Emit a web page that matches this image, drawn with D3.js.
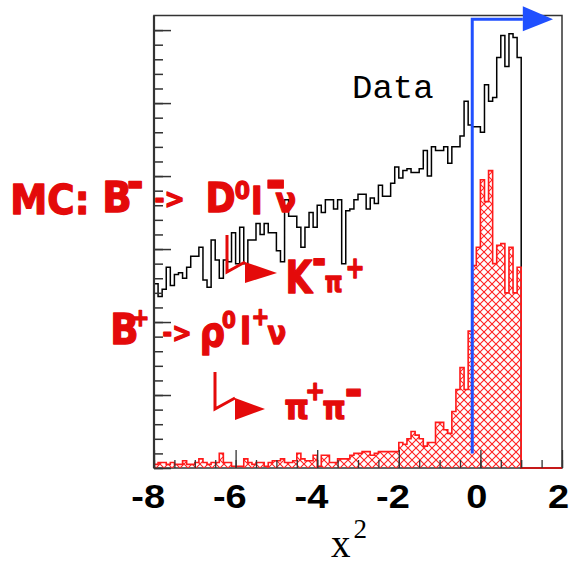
<!DOCTYPE html>
<html>
<head>
<meta charset="utf-8">
<script src="https://cdn.jsdelivr.net/npm/d3@7"></script>
<style>
  body { margin: 0; background: #fff; }
  svg { display: block; }
</style>
</head>
<body>
<svg id="chart" width="569" height="562"></svg>
<script>
// ---- histogram binning: 100 bins of width 0.1 on [-8, 2] ----
const binLow = -8;
const binWidth = 0.1;

// Data: events per bin
const dataCounts = [
  101, 94, 98,110,100,106,107,104,110,116,
  116,121,103, 99,125,114,104,114,113,129,
  112,132,112,125,125,134,128,134,129,129,
  119,113,147,138,138,132,121,132,140,132,
  144,140,147,147,142,147,112,141,142,147,
  150,150,142,148,145,155,149,149,156,165,
  159,163,164,162,162,164,174,160,176,174,
  174,176,167,176,176,182,201,188,187,187,
  184,210,201,203,225,237,220,238,236,225,
    0,  0,  0,  0,  0,  0,  0,  0,  0,  0
];

// MC: B+ -> rho0 l+ nu, rho0 -> pi+ pi-
const mcCounts = [
   2,  3,  3,  2,  3,  2,  2,  4,  2,  2,
   3,  5,  3,  2,  3,  3,  8,  3,  3,  1,
   1,  1,  5,  3,  2,  3,  3,  1,  3,  4,
   4,  5,  3,  3,  4,  8,  5,  4,  4,  7,
   1,  7,  7,  3,  3,  5,  5,  5,  7,  8,
   8,  9,  9,  7,  8,  9,  9,  9,  9,  9,
  14, 13, 16, 20, 18, 16, 12, 14, 14, 25,
  25, 21, 19, 31, 43, 55, 43, 75,111,121,
 158,146,163,112,122,123, 96,121, 96,110,
   0,  0,  0,  0,  0,  0,  0,  0,  0,  0
];

// axis ticks
const xMajorTicks = [-8, -6, -4, -2, 0, 2];
const xMinorStep = 0.5;
const yMajorTicks = [0, 40, 80, 120, 160, 200, 240];
const yMinorStep = 8;

// selection cut on x^2 and the accepted side
const cutValue = -0.2;
const cutBottom = 8, cutTop = 246;
const arrowBase = 1.04, arrowTip = 1.78;

// ---- layout ----
const x = d3.scaleLinear().domain([-8, 2]).range([154, 562]);
const y = d3.scaleLinear().domain([0, 248]).range([468, 15.5]);

const svg = d3.select("#chart");
const defs = svg.append("defs");

// red cross-hatch fill for the MC histogram
const hatch = defs.append("pattern")
  .attr("id", "xhatch")
  .attr("patternUnits", "userSpaceOnUse")
  .attr("width", 8).attr("height", 8);
hatch.append("path")
  .attr("d", "M0,0L8,8M8,0L0,8")
  .attr("stroke", "#ff2020")
  .attr("stroke-width", 1.1)
  .attr("fill", "none");

const edges = d3.range(dataCounts.length + 1).map(i => binLow + i * binWidth);

function stepPoints(counts) {
  const pts = [[edges[0], 0]];
  counts.forEach((c, i) => pts.push([edges[i], c]));
  pts.push([edges[counts.length], 0]);
  return pts;
}
const stepLine = d3.line()
  .x(d => x(d[0]))
  .y(d => y(d[1]))
  .curve(d3.curveStepAfter);

// frame
svg.append("rect")
  .attr("x", x(-8)).attr("y", y(248))
  .attr("width", x(2) - x(-8)).attr("height", y(0) - y(248))
  .attr("fill", "none").attr("stroke", "#333").attr("stroke-width", 1.5);

// data histogram
svg.append("path")
  .attr("d", stepLine(stepPoints(dataCounts)))
  .attr("fill", "none")
  .attr("stroke", "#000")
  .attr("stroke-width", 1.5);

// MC histogram
svg.append("path")
  .attr("d", stepLine(stepPoints(mcCounts)))
  .attr("fill", "url(#xhatch)")
  .attr("stroke", "#ff1a1a")
  .attr("stroke-width", 1.6);

// cut line with arrow toward the accepted region
const blue = "#2050ff";
svg.append("path")
  .attr("d", d3.line()([[x(cutValue), y(cutBottom)], [x(cutValue), y(cutTop)], [x(arrowBase), y(cutTop)]]))
  .attr("fill", "none").attr("stroke", blue).attr("stroke-width", 3);
svg.append("path")
  .attr("d", d3.line()([[x(arrowBase), y(cutTop) - 13], [x(arrowTip), y(cutTop)], [x(arrowBase), y(cutTop) + 12]]) + "Z")
  .attr("fill", blue);

// y axis ticks (no labels)
const yAxisG = svg.append("g").attr("transform", `translate(${x(-8)},0)`);
yAxisG.append("g")
  .call(d3.axisLeft(y).tickValues(d3.range(0, 248, yMinorStep)).tickSize(-9).tickFormat(""));
yAxisG.append("g")
  .call(d3.axisLeft(y).tickValues(yMajorTicks).tickSize(-17).tickFormat(""));
yAxisG.selectAll(".domain").remove();
yAxisG.selectAll("line").attr("stroke", "#333").attr("stroke-width", 1.5);
yAxisG.append("line")
  .attr("x1", 0).attr("x2", 0).attr("y1", y(0)).attr("y2", y(248))
  .attr("stroke", "#333").attr("stroke-width", 2.2);

// x axis
const xAxisG = svg.append("g").attr("transform", `translate(0,${y(0)})`);
xAxisG.append("g")
  .call(d3.axisBottom(x).tickValues(d3.range(-8, 2.01, xMinorStep)).tickSize(-8).tickFormat(""));
const xMajor = xAxisG.append("g")
  .call(d3.axisBottom(x).tickValues(xMajorTicks).tickSize(-18).tickPadding(17).tickFormat(d => String(d)));
xAxisG.selectAll(".domain").remove();
xAxisG.selectAll("line").attr("stroke", "#333").attr("stroke-width", 1.3);
xMajor.selectAll("text")
  .attr("font-family", "'Liberation Sans', Arial, sans-serif")
  .attr("font-weight", "bold")
  .attr("font-size", 33)
  .attr("fill", "#000")
  .attr("transform", "scale(1.15,1)")
  .attr("dx", d => d < 0 ? -5.5 : -3.5);

// axis title
const xt = svg.append("text")
  .attr("x", 331).attr("y", 557)
  .attr("font-family", "'Liberation Serif', 'Times New Roman', serif")
  .attr("font-size", 39)
  .attr("fill", "#000");
xt.append("tspan").text("x");
xt.append("tspan").attr("font-size", 27).attr("dy", -19).attr("dx", 3).text("2");

// "Data" label
svg.append("text")
  .attr("x", 352).attr("y", 98)
  .attr("font-family", "'Liberation Mono', 'Courier New', monospace")
  .attr("font-size", 34)
  .attr("fill", "#000")
  .text("Data");

// ---- red MC annotations ----
const red = "#e40a0a";
const annotFont = "'DejaVu Sans', sans-serif";
// one text per line; each piece is sized to its ink box [left, top, right, bottom]
// bar-shaped pieces ("-") are sized by width and centred vertically in their box
const annotLines = [
  [
    { t: "MC:", box: [13, 182, 78, 215] },
    { t: "B",   box: [105, 180, 128, 213] },
    { t: "-",   box: [128, 182, 141, 187], bar: true },
    { t: "->",  box: [155, 191, 183, 208] },
    { t: "D",   box: [208, 182, 233, 213] },
    { t: "0",   box: [235, 180, 250, 200] },
    { t: "l",   box: [253, 185, 263, 215] },
    { t: "-",   box: [267, 181, 283, 186], bar: true },
    { t: "ν",   box: [275, 193, 297, 213] }
  ],
  [
    { t: "K",   box: [288, 260, 312, 294] },
    { t: "-",   box: [313, 259, 324, 264], bar: true },
    { t: "π",   box: [325, 275, 347, 293] },
    { t: "+",   box: [347, 259, 363, 279] }
  ],
  [
    { t: "B",   box: [113, 312, 132, 345] },
    { t: "+",   box: [133, 310, 148, 327] },
    { t: "->",  box: [163, 325, 190, 342] },
    { t: "ρ",   box: [202, 322, 222, 355] },
    { t: "0",   box: [222, 310, 240, 329] },
    { t: "l",   box: [242, 315, 253, 345] },
    { t: "+",   box: [253, 309, 268, 326] },
    { t: "ν",   box: [267, 326, 287, 345] }
  ],
  [
    { t: "π",   box: [285, 399, 308, 420] },
    { t: "+",   box: [307, 383, 323, 401] },
    { t: "π",   box: [323, 400, 345, 420] },
    { t: "-",   box: [346, 389, 360, 394], bar: true }
  ]
];
// L-shaped decay arrows
const decayArrows = [
  { top: [227, 235], corner: [227, 272], head: [[245, 262], [277, 273], [245, 283]] },
  { top: [215, 372], corner: [215, 409], head: [[235, 398], [265, 409], [235, 420]] }
];

const ctx = document.createElement("canvas").getContext("2d");
ctx.font = `bold 100px ${annotFont}`;
const annotG = svg.append("g").attr("fill", red);
const strokeW = 1.4;

annotLines.forEach(line => {
  const ms = line.map(p => {
    const m = ctx.measureText(p.t);
    return {
      p,
      l: m.actualBoundingBoxLeft, r: m.actualBoundingBoxRight,
      a: m.actualBoundingBoxAscent, d: m.actualBoundingBoxDescent
    };
  });
  // horizontal squeeze shared by the whole line
  const ratios = ms.filter(o => !o.p.bar).map(o => {
    const fs = (o.p.box[3] - o.p.box[1] - strokeW) / (o.a + o.d) * 100;
    return (o.p.box[2] - o.p.box[0] - strokeW) / ((o.l + o.r) * fs / 100);
  });
  const sx = d3.median(ratios);
  const t = annotG.append("text")
    .attr("transform", `scale(${sx},1)`)
    .attr("font-family", annotFont)
    .attr("font-weight", "bold")
    .attr("stroke", red)
    .attr("stroke-width", strokeW)
    .attr("stroke-linejoin", "round");
  ms.forEach(o => {
    const [x0, y0, x1, y1] = o.p.box;
    let fs, base;
    if (o.p.bar) {
      fs = (x1 - x0) / ((o.l + o.r) * sx) * 100;
      base = (y0 + y1) / 2 + (o.a - o.d) / 2 * fs / 100;
    } else {
      fs = (y1 - y0 - strokeW) / (o.a + o.d) * 100;
      base = y0 + strokeW / 2 + o.a * fs / 100;
    }
    t.append("tspan")
      .attr("x", (x0 + strokeW / 2) / sx + o.l * fs / 100)
      .attr("y", base)
      .attr("font-size", fs)
      .text(o.p.t);
  });
});

decayArrows.forEach(a => {
  annotG.append("path")
    .attr("d", d3.line()([a.top, a.corner, a.head[0]]))
    .attr("fill", "none").attr("stroke", red).attr("stroke-width", 3);
  annotG.append("path")
    .attr("d", d3.line()(a.head) + "Z");
});
</script>
</body>
</html>
